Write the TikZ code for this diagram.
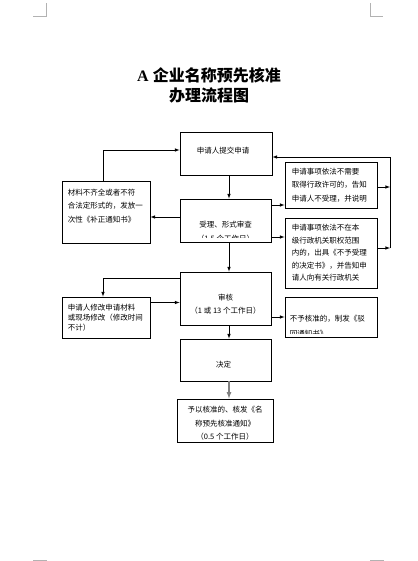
\documentclass[tikz,border=0pt]{standalone}
\usepackage{fontspec}
\setmainfont{Liberation Serif}
\newfontfamily\cjk{Noto Sans CJK SC}
\usepackage{tikz}
\usetikzlibrary{arrows,positioning}
\tikzset{box/.style={draw, line width=0.9pt, inner sep=0pt}}
\tikzset{txt/.style={font=\cjk\fontsize{7.5}{13.5}\selectfont, inner sep=0pt, align=left, anchor=west}}
\tikzset{arr/.style={-latex, line width=0.6pt}}
\tikzset{cropmark/.style={gray!60, line width=0.7pt}}

\begin{document}
\begin{tikzpicture}[x=1pt,y=-1pt]
  \useasboundingbox (0,0) rectangle (417,561);

  % page corner marks
  \draw[cropmark] (33,16)--(46,16)--(46,3);
  \draw[cropmark] (370,3)--(370,16)--(383,16);
  \draw[cropmark] (33,560)--(47,560);
  \draw[cropmark] (370,560)--(384,560);

  \node[align=center, font=\fontsize{16}{20}\selectfont\bfseries] (title) at (209,85)
    {A {\cjk 企业名称预先核准}\\{\cjk 办理流程图}};

  % boxes
  \node[box, minimum width=92, minimum height=43] (b1) at (226,153.5) {};
  \node[box, minimum width=91, minimum height=43] (b2) at (225.5,220.5) {};
  \node[box, minimum width=88, minimum height=62] (b3) at (106,212) {};
  \node[box, minimum width=92, minimum height=46] (bA) at (331,185) {};
  \node[box, minimum width=92, minimum height=70] (bB) at (331,253) {};
  \node[box, minimum width=91, minimum height=53] (b4) at (225.5,298.5) {};
  \node[box, minimum width=88, minimum height=41] (b5) at (106,317.5) {};
  \node[box, minimum width=92, minimum height=40] (bC) at (331,317) {};
  \node[box, minimum width=91, minimum height=42] (b6) at (225.5,360) {};
  \node[box, minimum width=96, minimum height=43] (b7) at (225,420.5) {};

  % texts
  \node[txt, anchor=center] (t1) at ([xshift=-3,yshift=3]b1.center) {申请人提交申请};
  \begin{scope}
    \clip ([yshift=5]b2.south west) rectangle (b2.north east);
    \node[txt, anchor=center, align=center, font=\cjk\fontsize{7.5}{14}\selectfont] (t2)
      at ([yshift=-11]b2.center) {受理、形式审查\\（1.5 个工作日）};
  \end{scope}
  \node[txt] (t3) at ([xshift=6,yshift=6]b3.west) {材料不齐全或者不符\\合法定形式的，发放一\\次性《补正通知书》};
  \node[txt] (tA) at ([xshift=7]bA.west) {申请事项依法不需要\\取得行政许可的，告知\\申请人不受理，并说明};
  \node[txt, font=\cjk\fontsize{7.5}{12.5}\selectfont] (tB) at ([xshift=7]bB.west)
    {申请事项依法不在本\\级行政机关职权范围\\内的，出具《不予受理\\的决定书》，并告知申\\请人向有关行政机关};
  \node[txt, anchor=center, align=center, font=\cjk\fontsize{7.5}{13}\selectfont] (t4)
    at ([xshift=0,yshift=-6]b4.center) {审核\\（1 或 13 个工作日）};
  \node[txt, font=\cjk\fontsize{7.5}{10}\selectfont] (t5) at ([xshift=6]b5.west)
    {申请人修改申请材料\\或现场修改（修改时间\\不计）};
  \begin{scope}
    \clip ([yshift=4]bC.south west) rectangle (bC.north east);
    \node[txt, font=\cjk\fontsize{7.5}{15}\selectfont] (tC) at ([xshift=5,yshift=-9.5]bC.west)
      {不予核准的，制发《驳\\回通知书》};
  \end{scope}
  \node[txt, anchor=center] (t6) at ([xshift=-2,yshift=-5]b6.center) {决定};
  \node[txt, anchor=center, align=center] (t7) at ([yshift=-3]b7.center)
    {予以核准的、核发《名\\称预先核准通知》\\（0.5 个工作日）};

  % connectors
  \coordinate (sp) at (229,0);
  \coordinate (lx) at (103,0);
  \coordinate (rx) at (390,0);
  \draw[arr] (b1.south -| sp) -- (b2.north -| sp);
  \draw[arr] ([yshift=3.5]b2.west) -- ([yshift=3.5]b2.west -| b3.east);
  \draw[arr] (b3.north -| lx) |- ([yshift=3.5]b1.west);

  \coordinate (o2A) at ([yshift=15.5]b2.east);
  \coordinate (o2B) at ([yshift=-16.5]b2.east);
  \draw[arr] (o2A) -- (o2A -| bA.west);
  \draw[arr] (o2B) -- (o2B -| bB.west);
  \coordinate (oA) at ([yshift=-2]bA.east);
  \coordinate (oB) at ([yshift=5]bB.east);
  \coordinate (in1) at ([yshift=-3.5]b1.east);
  \draw[arr] (oA) -- (oA -| rx);
  \draw[arr] (oB) -- (oB -| rx);
  \draw[arr] (oB -| rx) -- (in1 -| rx) -- (in1);

  \draw[arr] (b2.south -| sp) -- (b4.north -| sp);
  \coordinate (o4) at ([yshift=20.5]b4.west);
  \draw[arr] (o4) -| (b5.north -| lx);
  \coordinate (i4) at ([yshift=-4]b4.west);
  \draw[arr] (i4 -| b5.east) -- (i4);
  \draw[arr] (bC.west -| b4.east) -- (bC.west);
  \draw[arr] (b4.south -| sp) -- (b6.north -| sp);
  \draw[arr, gray, line width=1.2pt] (b6.south -| sp) -- (b7.north -| sp);
\end{tikzpicture}
\end{document}
